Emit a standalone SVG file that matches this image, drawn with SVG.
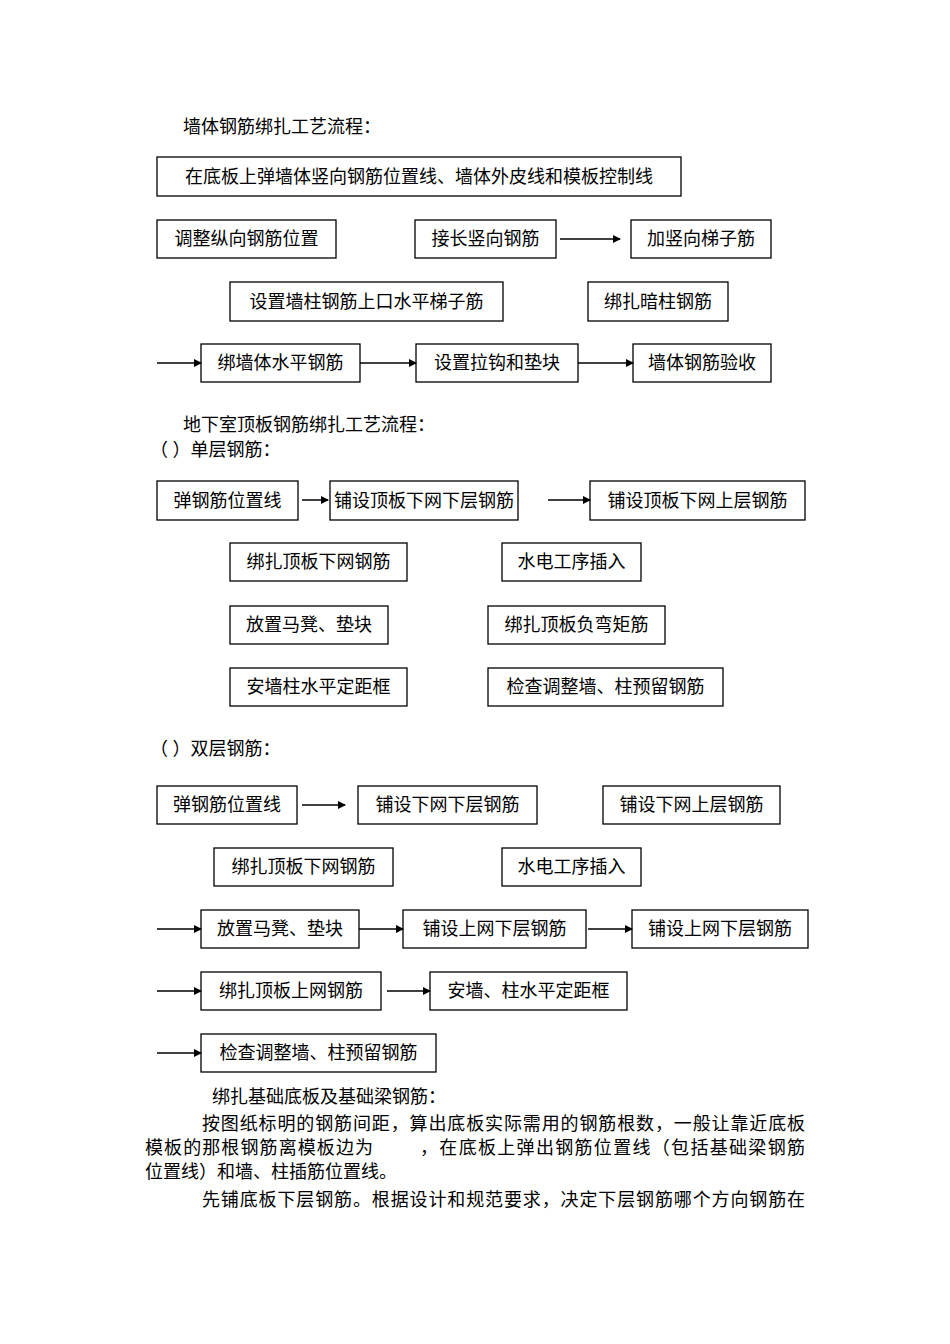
<svg xmlns="http://www.w3.org/2000/svg" width="950" height="1344" viewBox="0 0 950 1344">
<style>
text{font-family:"Liberation Serif","Noto Sans CJK SC",serif;font-size:18px;fill:#000}
.b rect{fill:#fff;stroke:#000;stroke-width:1.3}
.b text{text-anchor:middle;dominant-baseline:central}
.c line{stroke:#000;stroke-width:1.5;marker-end:url(#a)}
</style>
<defs><marker id="a" markerWidth="8" markerHeight="8" refX="7" refY="4" orient="auto" markerUnits="userSpaceOnUse"><path d="M0,0L8,4L0,8z" fill="#000"/></marker></defs>
<rect width="950" height="1344" fill="#fff"/>
<text x="183" y="133">墙体钢筋绑扎工艺流程：</text>
<text x="183" y="431">地下室顶板钢筋绑扎工艺流程：</text>
<text x="150" y="456">（  ）单层钢筋：</text>
<text x="150" y="755">（  ）双层钢筋：</text>
<g class="b">
<g id="n1"><rect x="157" y="157" width="524" height="39"/><text x="419" y="176.5">在底板上弹墙体竖向钢筋位置线、墙体外皮线和模板控制线</text></g>
<g id="n2"><rect x="157" y="220" width="179" height="38"/><text x="246.5" y="239">调整纵向钢筋位置</text></g>
<g id="n3"><rect x="415" y="220" width="141" height="38"/><text x="485.5" y="239">接长竖向钢筋</text></g>
<g id="n4"><rect x="631" y="220" width="140" height="38"/><text x="701" y="239">加竖向梯子筋</text></g>
<g id="n5"><rect x="230" y="282" width="273" height="39"/><text x="366.5" y="301.5">设置墙柱钢筋上口水平梯子筋</text></g>
<g id="n6"><rect x="588" y="282" width="140" height="39"/><text x="658" y="301.5">绑扎暗柱钢筋</text></g>
<g id="n7"><rect x="201" y="344" width="159" height="38"/><text x="280.5" y="363">绑墙体水平钢筋</text></g>
<g id="n8"><rect x="416" y="344" width="162" height="38"/><text x="497" y="363">设置拉钩和垫块</text></g>
<g id="n9"><rect x="633" y="344" width="138" height="38"/><text x="702" y="363">墙体钢筋验收</text></g>
<g id="s1"><rect x="157" y="481" width="141" height="39"/><text x="227.5" y="500.5">弹钢筋位置线</text></g>
<g id="s2"><rect x="330" y="481" width="188" height="39"/><text x="424" y="500.5">铺设顶板下网下层钢筋</text></g>
<g id="s3"><rect x="590" y="481" width="215" height="39"/><text x="697.5" y="500.5">铺设顶板下网上层钢筋</text></g>
<g id="s4"><rect x="230" y="543" width="177" height="38"/><text x="318.5" y="562">绑扎顶板下网钢筋</text></g>
<g id="s5"><rect x="502" y="543" width="139" height="38"/><text x="571.5" y="562">水电工序插入</text></g>
<g id="s6"><rect x="230" y="606" width="158" height="38"/><text x="309" y="625">放置马凳、垫块</text></g>
<g id="s7"><rect x="488" y="606" width="177" height="38"/><text x="576.5" y="625">绑扎顶板负弯矩筋</text></g>
<g id="s8"><rect x="230" y="668" width="177" height="38"/><text x="318.5" y="687">安墙柱水平定距框</text></g>
<g id="s9"><rect x="488" y="668" width="235" height="38"/><text x="605.5" y="687">检查调整墙、柱预留钢筋</text></g>
<g id="d1"><rect x="157" y="786" width="140" height="38"/><text x="227" y="805">弹钢筋位置线</text></g>
<g id="d2"><rect x="358" y="786" width="179" height="38"/><text x="447.5" y="805">铺设下网下层钢筋</text></g>
<g id="d3"><rect x="603" y="786" width="177" height="38"/><text x="691.5" y="805">铺设下网上层钢筋</text></g>
<g id="d4"><rect x="214" y="848" width="179" height="38"/><text x="303.5" y="867">绑扎顶板下网钢筋</text></g>
<g id="d5"><rect x="502" y="848" width="139" height="38"/><text x="571.5" y="867">水电工序插入</text></g>
<g id="d6"><rect x="201" y="910" width="158" height="38"/><text x="280" y="929">放置马凳、垫块</text></g>
<g id="d7"><rect x="403" y="910" width="183" height="38"/><text x="494.5" y="929">铺设上网下层钢筋</text></g>
<g id="d8"><rect x="632" y="910" width="176" height="38"/><text x="720" y="929">铺设上网下层钢筋</text></g>
<g id="d9"><rect x="201" y="972" width="180" height="38"/><text x="291" y="991">绑扎顶板上网钢筋</text></g>
<g id="d10"><rect x="430" y="972" width="197" height="38"/><text x="528.5" y="991">安墙、柱水平定距框</text></g>
<g id="d11"><rect x="201" y="1034" width="235" height="38"/><text x="318.5" y="1053">检查调整墙、柱预留钢筋</text></g>
</g>
<g class="c">
<line x1="560" y1="239" x2="620" y2="239"/>
<line x1="157" y1="363" x2="201" y2="363"/>
<line x1="360" y1="363" x2="416" y2="363"/>
<line x1="578" y1="363" x2="633" y2="363"/>
<line x1="302" y1="500" x2="328" y2="500"/>
<line x1="548" y1="500" x2="590" y2="500"/>
<line x1="302" y1="805" x2="345" y2="805"/>
<line x1="157" y1="929" x2="201" y2="929"/>
<line x1="359" y1="929" x2="403" y2="929"/>
<line x1="588" y1="929" x2="632" y2="929"/>
<line x1="157" y1="991" x2="201" y2="991"/>
<line x1="387" y1="991" x2="430" y2="991"/>
<line x1="157" y1="1053" x2="201" y2="1053"/>
</g>
<text x="212" y="1103">绑扎基础底板及基础梁钢筋：</text>
<text x="202" y="1130" textLength="603" lengthAdjust="spacing">按图纸标明的钢筋间距，算出底板实际需用的钢筋根数，一般让靠近底板</text>
<text x="145" y="1154" textLength="228" lengthAdjust="spacing">模板的那根钢筋离模板边为</text>
<text x="420" y="1154" textLength="385" lengthAdjust="spacing">，在底板上弹出钢筋位置线（包括基础梁钢筋</text>
<text x="145" y="1178">位置线）和墙、柱插筋位置线。</text>
<text x="202" y="1206" textLength="603" lengthAdjust="spacing">先铺底板下层钢筋。根据设计和规范要求，决定下层钢筋哪个方向钢筋在</text>
</svg>
